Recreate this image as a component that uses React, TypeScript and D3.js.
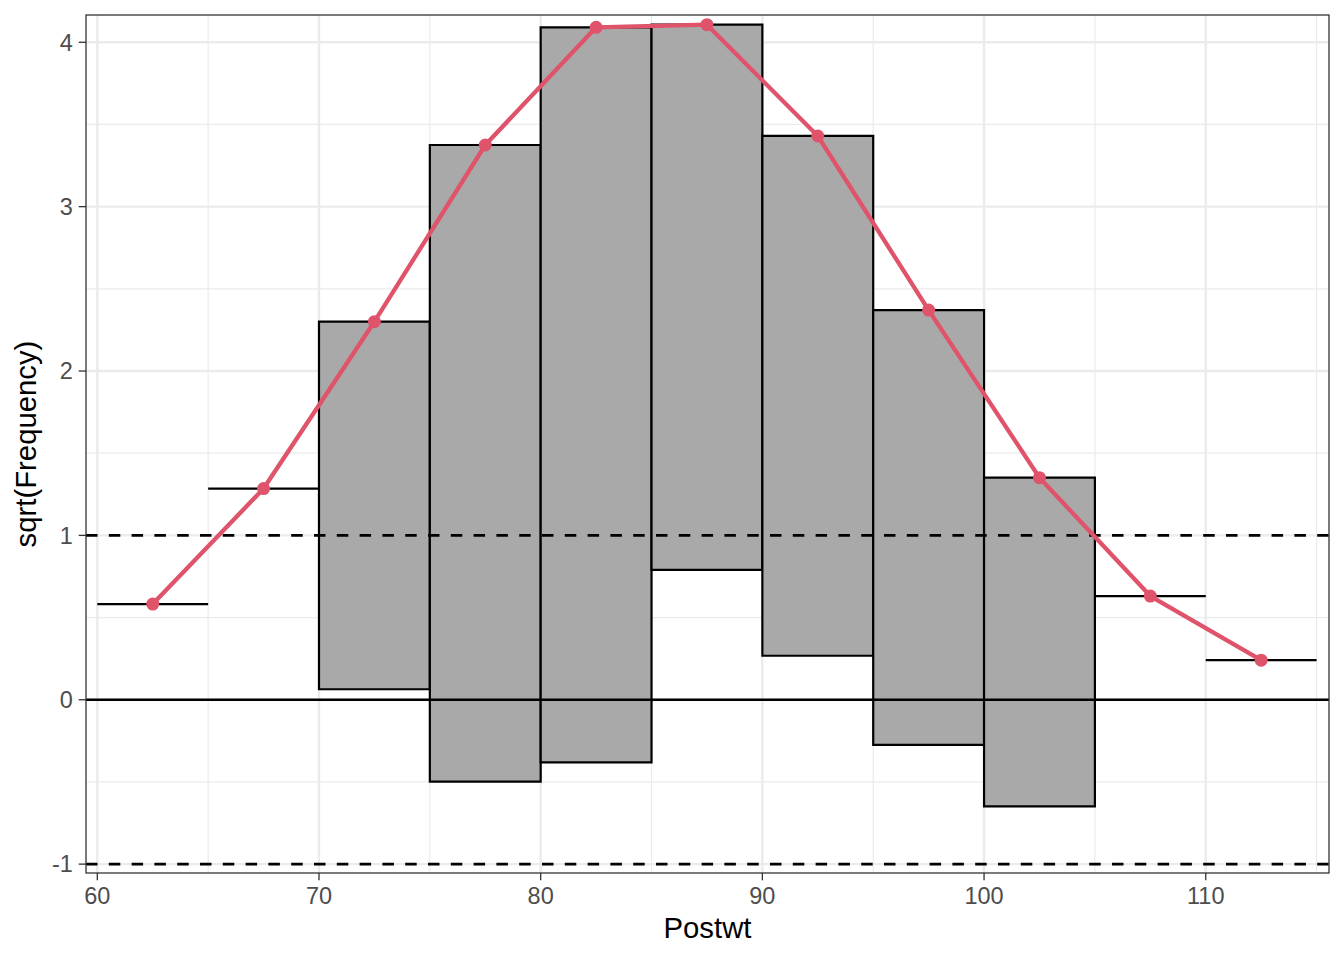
import React, { useEffect, useRef } from 'react';
import * as d3 from 'd3';

// bins of Postwt (width 5)
const binStarts = [60, 65, 70, 75, 80, 85, 90, 95, 100, 105, 110];
const binWidth = 5;
// observed counts per bin
const observed = [0, 0, 5, 15, 20, 11, 10, 7, 4, 0, 0];
// sqrt of expected frequency per bin (red curve)
const expectedSqrt = [0.582, 1.285, 2.3, 3.375, 4.091, 4.107, 3.43, 2.371, 1.351, 0.631, 0.241];

const xTicks = [60, 70, 80, 90, 100, 110];
const xMinor = [65, 75, 85, 95, 105, 115];
const yTicks = [-1, 0, 1, 2, 3, 4];
const yMinor = [-0.5, 0.5, 1.5, 2.5, 3.5];
const refLines = [-1, 1];

const W = 1344;
const H = 960;
const panel = { left: 86, right: 1329, top: 15, bottom: 873 };
const FONT = '"Liberation Sans", Arial, Helvetica, sans-serif';

export default function App() {
  const svgRef = useRef<SVGSVGElement>(null);

  useEffect(() => {
    if (!svgRef.current) return;
    const svg = d3.select(svgRef.current);
    svg.selectAll('*').remove();

    const x = d3.scaleLinear().domain([59.49, 115.56]).range([panel.left, panel.right]);
    const y = d3.scaleLinear().domain([-1.054, 4.166]).range([panel.bottom, panel.top]);

    svg.append('rect').attr('width', W).attr('height', H).attr('fill', 'white');

    const g = svg.append('g');

    // minor grid
    g.selectAll('line.xminor').data(xMinor).join('line')
      .attr('x1', d => x(d)).attr('x2', d => x(d))
      .attr('y1', panel.top).attr('y2', panel.bottom)
      .attr('stroke', '#EBEBEB').attr('stroke-width', 1.2);
    g.selectAll('line.yminor').data(yMinor).join('line')
      .attr('x1', panel.left).attr('x2', panel.right)
      .attr('y1', d => y(d)).attr('y2', d => y(d))
      .attr('stroke', '#EBEBEB').attr('stroke-width', 1.2);

    // major grid
    g.selectAll('line.xmajor').data(xTicks).join('line')
      .attr('x1', d => x(d)).attr('x2', d => x(d))
      .attr('y1', panel.top).attr('y2', panel.bottom)
      .attr('stroke', '#EBEBEB').attr('stroke-width', 2.4);
    g.selectAll('line.ymajor').data(yTicks).join('line')
      .attr('x1', panel.left).attr('x2', panel.right)
      .attr('y1', d => y(d)).attr('y2', d => y(d))
      .attr('stroke', '#EBEBEB').attr('stroke-width', 2.4);

    // hanging bars (as paths so empty bins still show their outline)
    const bins = binStarts.map((s, i) => ({
      x0: s,
      x1: s + binWidth,
      top: expectedSqrt[i],
      bottom: expectedSqrt[i] - Math.sqrt(observed[i]),
    }));

    g.selectAll('path.bar').data(bins).join('path')
      .attr('class', 'bar')
      .attr('d', d => {
        const p = d3.path();
        p.moveTo(x(d.x0), y(d.top));
        p.lineTo(x(d.x1), y(d.top));
        p.lineTo(x(d.x1), y(d.bottom));
        p.lineTo(x(d.x0), y(d.bottom));
        p.closePath();
        return p.toString();
      })
      .attr('fill', '#A9A9A9')
      .attr('stroke', 'black')
      .attr('stroke-width', 2.2)
      .attr('stroke-linejoin', 'miter');

    // zero line
    g.append('line')
      .attr('x1', panel.left).attr('x2', panel.right)
      .attr('y1', y(0)).attr('y2', y(0))
      .attr('stroke', 'black').attr('stroke-width', 2.7);

    // dashed reference lines
    g.selectAll('line.ref').data(refLines).join('line')
      .attr('x1', panel.left).attr('x2', panel.right)
      .attr('y1', d => y(d)).attr('y2', d => y(d))
      .attr('stroke', 'black').attr('stroke-width', 2.7)
      .attr('stroke-dasharray', '11.5 11.3');

    // expected curve
    const pts = binStarts.map((s, i) => ({ mid: s + binWidth / 2, v: expectedSqrt[i] }));
    const line = d3.line<typeof pts[0]>().x(d => x(d.mid)).y(d => y(d.v));
    g.append('path')
      .datum(pts)
      .attr('d', line)
      .attr('fill', 'none')
      .attr('stroke', '#DF536B')
      .attr('stroke-width', 4.3)
      .attr('stroke-linejoin', 'round');
    g.selectAll('circle').data(pts).join('circle')
      .attr('cx', d => x(d.mid)).attr('cy', d => y(d.v))
      .attr('r', 6.5).attr('fill', '#DF536B');

    // panel border
    svg.append('rect')
      .attr('x', panel.left).attr('y', panel.top)
      .attr('width', panel.right - panel.left)
      .attr('height', panel.bottom - panel.top)
      .attr('fill', 'none').attr('stroke', '#333333').attr('stroke-width', 1.3);

    // axes
    const tickLen = 7.3;
    const ax = svg.append('g');
    ax.selectAll('line.yt').data(yTicks).join('line')
      .attr('x1', panel.left - tickLen).attr('x2', panel.left)
      .attr('y1', d => y(d)).attr('y2', d => y(d))
      .attr('stroke', '#333333').attr('stroke-width', 1.3);
    ax.selectAll('text.yl').data(yTicks).join('text')
      .attr('x', panel.left - tickLen - 5.9)
      .attr('y', d => y(d) + 8.3)
      .attr('text-anchor', 'end')
      .attr('font-family', FONT).attr('font-size', 23.5).attr('fill', '#4D4D4D')
      .text(d => String(d));

    ax.selectAll('line.xt').data(xTicks).join('line')
      .attr('x1', d => x(d)).attr('x2', d => x(d))
      .attr('y1', panel.bottom).attr('y2', panel.bottom + tickLen)
      .attr('stroke', '#333333').attr('stroke-width', 1.3);
    ax.selectAll('text.xl').data(xTicks).join('text')
      .attr('x', d => x(d))
      .attr('y', 904)
      .attr('text-anchor', 'middle')
      .attr('font-family', FONT).attr('font-size', 23.5).attr('fill', '#4D4D4D')
      .text(d => String(d));

    // titles
    svg.append('text')
      .attr('x', (panel.left + panel.right) / 2)
      .attr('y', 937.5)
      .attr('text-anchor', 'middle')
      .attr('font-family', FONT).attr('font-size', 29.3).attr('fill', 'black')
      .text('Postwt');
    svg.append('text')
      .attr('transform', `translate(36,${(panel.top + panel.bottom) / 2}) rotate(-90)`)
      .attr('text-anchor', 'middle')
      .attr('font-family', FONT).attr('font-size', 29.3).attr('fill', 'black')
      .text('sqrt(Frequency)');
  }, []);

  return (
    <svg
      ref={svgRef}
      width={W}
      height={H}
      style={{ position: 'absolute', left: 0, top: 0, display: 'block' }}
    />
  );
}
